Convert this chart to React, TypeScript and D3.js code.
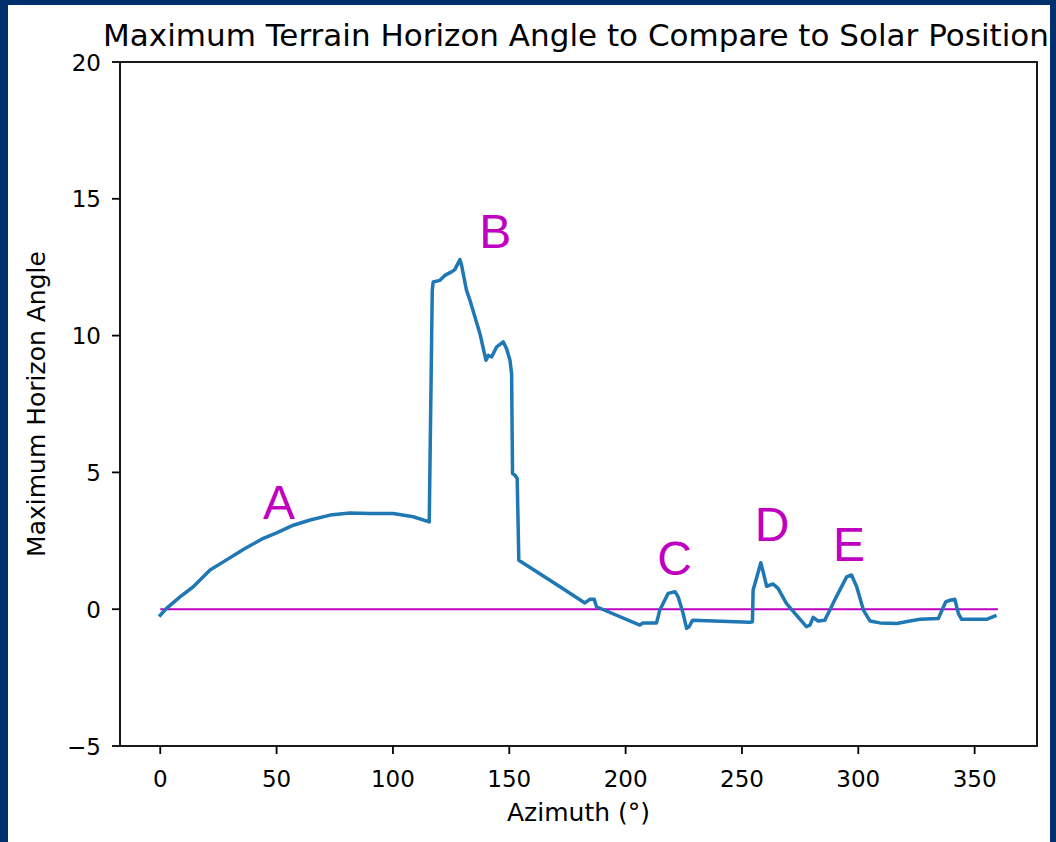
import * as d3 from 'd3';

const width = 1056;
const height = 842;
const box = { left: 120, right: 1037, top: 62, bottom: 746 };

const azimuth = [
  0, 2.7, 8.5, 14.2, 21.4, 27.1, 36.4, 44.3, 50, 57.2, 64.4, 73, 81.5, 90.1,
  100.1, 108.7, 115.6, 116.9, 117.3, 120.2, 122.3, 125.2, 126.6, 128.8, 129.5,
  131.6, 133.1, 137.4, 139.5, 140, 141, 142.4, 144.6, 147.4, 148.8, 150.3,
  151, 151.4, 152.4, 153.4, 154.1, 171.8, 182.5, 184.6, 186.5, 187.5, 206.1,
  207.5, 213.3, 214.7, 218.3, 221.2, 222.6, 224.7, 226.2, 227.3, 228.8, 253.4,
  254.5, 254.8, 256, 258.1, 259.1, 260.6, 263.4, 265.5, 269.1, 273.4, 277.7,
  279.2, 280.6, 282.7, 285.6, 287.8, 290, 295, 297.1, 299.3, 302.2, 305,
  309.3, 316.5, 322.2, 326.5, 334.4, 337.6, 339.4, 341.5, 343, 344.4, 355.1,
  358.7,
];
const horizonAngle = [
  -0.22, 0.03, 0.45, 0.82, 1.43, 1.73, 2.22, 2.59, 2.79, 3.07, 3.26, 3.44,
  3.52, 3.5, 3.5, 3.38, 3.19, 11.66, 11.96, 12.02, 12.2, 12.33, 12.41, 12.78,
  12.57, 11.66, 11.29, 10.07, 9.28, 9.1, 9.28, 9.22, 9.59, 9.77, 9.53, 9.1,
  8.6, 4.96, 4.9, 4.78, 1.79, 0.82, 0.23, 0.36, 0.36, 0.09, -0.58, -0.5,
  -0.5, -0.03, 0.58, 0.64, 0.45, -0.15, -0.7, -0.64, -0.4, -0.48, -0.46, 0.7,
  1.06, 1.7, 1.37, 0.84, 0.92, 0.76, 0.21, -0.22, -0.64, -0.58, -0.3, -0.43,
  -0.4, -0.03, 0.36, 1.18, 1.25, 0.82, -0.03, -0.43, -0.5, -0.52, -0.43,
  -0.37, -0.34, 0.27, 0.33, 0.36, -0.15, -0.37, -0.37, -0.25,
];

const xTicks = [0, 50, 100, 150, 200, 250, 300, 350];
const yTicks = [-5, 0, 5, 10, 15, 20];

const labelNames = ['A', 'B', 'C', 'D', 'E'];
const labelAz = [51, 144, 221, 263, 296];
const labelAngle = [3.3, 13.2, 1.25, 2.5, 1.75];

const font = 'DejaVu Sans, sans-serif';
const navy = '#00306e';
const magenta = '#c000c0';

export default function App() {
  const x = d3.scaleLinear([-17.3, 376.8], [box.left, box.right]);
  const y = d3.scaleLinear([-5, 20], [box.bottom, box.top]);
  const points = azimuth.map((a, i) => [a, horizonAngle[i]] as [number, number]);
  const line = d3.line<[number, number]>((d) => x(d[0]), (d) => y(d[1]));

  return (
    <div style={{ position: 'fixed', left: 0, top: 0 }}>
      <svg width={width} height={height} style={{ display: 'block' }}>
        <rect width={width} height={height} fill={navy} />
        <rect x={8} y={5} width={width - 14} height={height - 5} fill="white" />

        <text
          x={576}
          y={46}
          fontFamily={font}
          fontSize={31}
          textAnchor="middle"
        >
          Maximum Terrain Horizon Angle to Compare to Solar Position
        </text>

        {yTicks.map((t) => (
          <g key={t}>
            <line x1={box.left - 8} x2={box.left} y1={y(t)} y2={y(t)} stroke="black" strokeWidth={1.8} />
            <text
              x={box.left - 19}
              y={y(t) + 8.5}
              fontFamily={font}
              fontSize={23}
              textAnchor="end"
            >
              {t < 0 ? '\u2212' + Math.abs(t) : t}
            </text>
          </g>
        ))}
        {xTicks.map((t) => (
          <g key={t}>
            <line x1={x(t)} x2={x(t)} y1={box.bottom} y2={box.bottom + 8} stroke="black" strokeWidth={1.8} />
            <text x={x(t)} y={787} fontFamily={font} fontSize={23} textAnchor="middle">
              {t}
            </text>
          </g>
        ))}

        <text
          x={(box.left + box.right) / 2}
          y={821}
          fontFamily={font}
          fontSize={25}
          textAnchor="middle"
        >
          Azimuth (°)
        </text>
        <text
          transform={`translate(45,${(box.top + box.bottom) / 2}) rotate(-90)`}
          fontFamily={font}
          fontSize={25}
          textAnchor="middle"
        >
          Maximum Horizon Angle
        </text>

        <line
          x1={x(0)}
          x2={x(360)}
          y1={y(0)}
          y2={y(0)}
          stroke={magenta}
          strokeWidth={2}
        />
        <path
          d={line(points) ?? ''}
          fill="none"
          stroke="#1f77b4"
          strokeWidth={3.5}
          strokeLinejoin="round"
          strokeLinecap="square"
        />

        {labelNames.map((n, i) => (
          <text
            key={n}
            x={x(labelAz[i])}
            y={y(labelAngle[i])}
            fontFamily="Liberation Sans, Arial, sans-serif"
            fontSize={48}
            fill={magenta}
            textAnchor="middle"
          >
            {n}
          </text>
        ))}

        <rect
          x={box.left}
          y={box.top}
          width={box.right - box.left}
          height={box.bottom - box.top}
          fill="none"
          stroke="black"
          strokeWidth={1.8}
        />
      </svg>
    </div>
  );
}
